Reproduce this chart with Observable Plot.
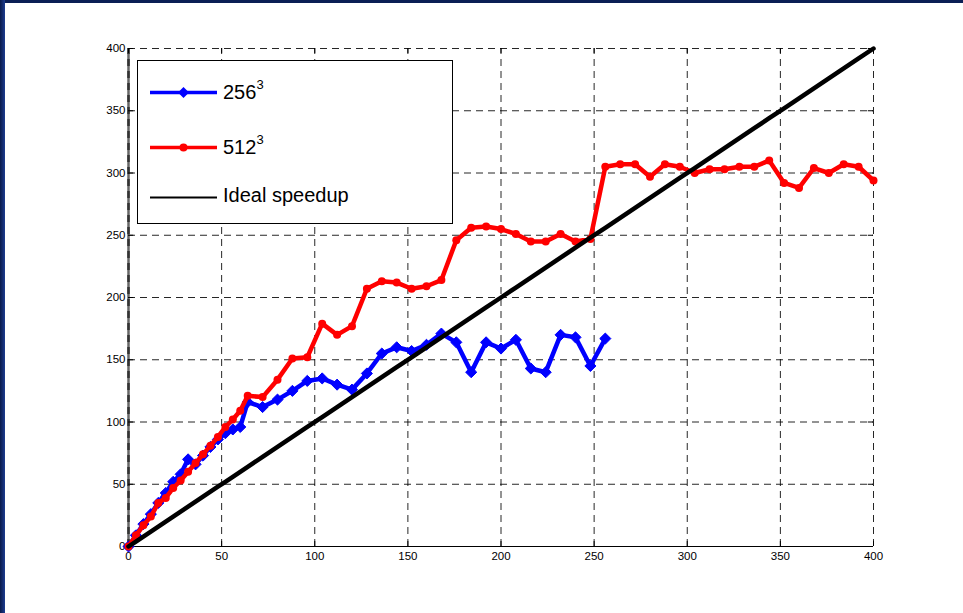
<!DOCTYPE html>
<html>
<head>
<meta charset="utf-8">
<script src="https://cdn.jsdelivr.net/npm/d3@7"></script>
<script src="https://cdn.jsdelivr.net/npm/@observablehq/plot@0.6"></script>
<style>
  html, body { margin: 0; padding: 0; background: #fff; }
  #page { position: relative; width: 963px; height: 613px; overflow: hidden; background: #fff;
          font-family: "Liberation Sans", Arial, sans-serif; }
  #topband { position: absolute; left: 0; top: 0; width: 963px; height: 3px; background: #0b1f55; }
  #leftband { position: absolute; left: 0; top: 0; width: 5px; height: 613px;
              background: linear-gradient(to right, #0a1a4a, #1c3c90); }
  #chart { position: absolute; left: 0; top: 0; }
  #legend { position: absolute; left: 137px; top: 60px; width: 314px; height: 162px;
            border: 1px solid #000; background: #fff; }
  .item { position: absolute; left: 0; height: 30px; }
  .item svg { position: absolute; left: 12px; top: 0; }
  .item span { position: absolute; left: 85px; top: 2px; font-size: 20px; color: #000; white-space: nowrap; }
  .item sup { font-size: 13px; position: relative; top: -2px; }
</style>
</head>
<body>
<div id="page">
  <div id="topband"></div>
  <div id="leftband"></div>
  <div id="chart"></div>
  <div id="legend"></div>
</div>
<script>
// ---- data ----
const xTicks = [0, 50, 100, 150, 200, 250, 300, 350, 400];
const yTicks = [0, 50, 100, 150, 200, 250, 300, 350, 400];

const procs256 = [0, 4, 8, 12, 16, 20, 24, 28, 32, 36, 40, 44, 48, 52, 56, 60, 64, 72, 80, 88, 96, 104, 112, 120, 128, 136, 144, 152, 160, 168, 176, 184, 192, 200, 208, 216, 224, 232, 240, 248, 256];
const speed256 = [0, 9, 18, 26, 35, 43, 52, 58, 70, 66, 73, 80, 86, 91, 94, 96, 116, 112, 118, 125, 133, 135, 130, 126, 139, 155, 160, 157, 162, 171, 164, 140, 164, 159, 166, 143, 140, 170, 168, 145, 167];

const procs512 = [0, 4, 8, 12, 16, 20, 24, 28, 32, 36, 40, 44, 48, 52, 56, 60, 64, 72, 80, 88, 96, 104, 112, 120, 128, 136, 144, 152, 160, 168, 176, 184, 192, 200, 208, 216, 224, 232, 240, 248, 256, 264, 272, 280, 288, 296, 304, 312, 320, 328, 336, 344, 352, 360, 368, 376, 384, 392, 400];
const speed512 = [0, 9, 17, 24, 35, 39, 47, 53, 60, 67, 74, 81, 88, 96, 102, 109, 121, 120, 134, 151, 152, 179, 170, 177, 207, 213, 212, 207, 209, 214, 246, 256, 257, 255, 251, 245, 245, 251, 245, 247, 305, 307, 307, 297, 307, 305, 300, 303, 303, 305, 305, 310, 292, 288, 304, 300, 307, 305, 294];

const idealProcs = procs512;
const idealSpeed = procs512.map(p => p);

const seriesNames = ["256", "512", "Ideal speedup"];
const seriesColors = ["#0000ff", "#ff0000", "#000000"];

// ---- build tables ----
const d256 = procs256.map((p, i) => ({p, s: speed256[i]}));
const d512 = procs512.map((p, i) => ({p, s: speed512[i]}));
const dIdeal = idealProcs.map((p, i) => ({p, s: idealSpeed[i]}));

const xGrid = xTicks.filter(t => t > 0);
const yGrid = yTicks.filter(t => t > 0);
const dash = "7,5";

const chart = Plot.plot({
  width: 963,
  height: 613,
  marginLeft: 128,
  marginRight: 90,
  marginTop: 48,
  marginBottom: 67,
  style: {fontFamily: "'Liberation Sans', Arial, sans-serif", fontSize: "11.5px", background: "transparent", overflow: "visible", color: "#000"},
  x: {domain: [0, 400], label: null},
  y: {domain: [0, 400], label: null},
  marks: [
    // grid
    Plot.ruleX(xGrid, {x: d => d, y1: 0, y2: 400, stroke: "#000", strokeWidth: 1, strokeDasharray: dash, strokeOpacity: 0.85}),
    Plot.ruleY(yGrid, {y: d => d, x1: 0, x2: 400, stroke: "#000", strokeWidth: 1, strokeDasharray: dash, strokeOpacity: 0.85}),
    // left axis line (grey) and bottom axis line
    Plot.ruleX([0], {x: d => d, y1: 0, y2: 400, stroke: "#666", strokeWidth: 2.5}),
    Plot.ruleX([0], {x: d => d, y1: 0, y2: 400, stroke: "#333", strokeWidth: 2.5, strokeDasharray: dash}),
    Plot.ruleY([0], {y: d => d, x1: 0, x2: 400, stroke: "#000", strokeWidth: 1.2}),
    // inward tick marks, bottom/top/left/right
    Plot.ruleX(xTicks, {x: d => d, y1: 0, y2: 4, stroke: "#000", strokeWidth: 1}),
    Plot.ruleX(xTicks, {x: d => d, y1: 396, y2: 400, stroke: "#000", strokeWidth: 1}),
    Plot.ruleY(yTicks, {y: d => d, x1: 0, x2: 2.8, stroke: "#000", strokeWidth: 1}),
    Plot.ruleY(yTicks, {y: d => d, x1: 397.2, x2: 400, stroke: "#000", strokeWidth: 1}),
    // axes labels
    Plot.axisX({ticks: xTicks, tickSize: 0, tickPadding: 5, tickFormat: d => String(d)}),
    Plot.axisY({ticks: yTicks, tickSize: 0, tickPadding: 3, tickFormat: d => String(d)}),
    // series
    Plot.line(d256, {x: "p", y: "s", stroke: seriesColors[0], strokeWidth: 4.5}),
    Plot.dot(d256, {x: "p", y: "s", symbol: "diamond2", r: 5, fill: seriesColors[0], stroke: seriesColors[0], strokeWidth: 1}),
    Plot.line(d512, {x: "p", y: "s", stroke: seriesColors[1], strokeWidth: 4.5}),
    Plot.dot(d512, {x: "p", y: "s", r: 4, fill: seriesColors[1], stroke: "none"}),
    Plot.line(dIdeal, {x: "p", y: "s", stroke: seriesColors[2], strokeWidth: 4.5})
  ]
});
document.getElementById("chart").appendChild(chart);

// ---- legend ----
const legend = document.getElementById("legend");
const tops = [16, 71, 121];
seriesNames.forEach((name, i) => {
  const item = document.createElement("div");
  item.className = "item";
  item.style.top = tops[i] + "px";
  const lw = i === 2 ? 2 : 3.5;
  let marker = "";
  if (i === 0) marker = `<path d="M33.5,10 L39,15.5 L33.5,21 L28,15.5 Z" fill="${seriesColors[0]}"/>`;
  if (i === 1) marker = `<circle cx="33.5" cy="15.5" r="4" fill="${seriesColors[1]}"/>`;
  item.innerHTML = `<svg width="70" height="30"><line x1="0" x2="67" y1="15.5" y2="15.5" stroke="${seriesColors[i]}" stroke-width="${lw}"/>${marker}</svg>` +
    (i < 2 ? `<span>${name}<sup>3</sup></span>` : `<span>${name}</span>`);
  legend.appendChild(item);
});
</script>
</body>
</html>
